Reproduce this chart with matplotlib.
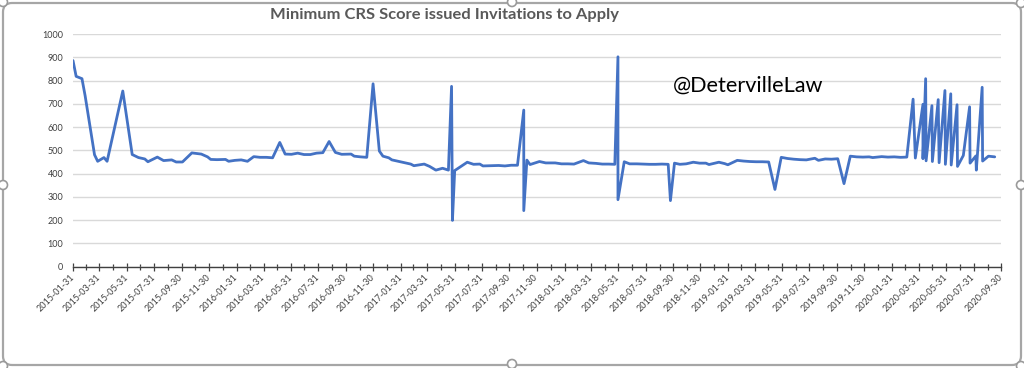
import matplotlib
matplotlib.use("Agg")
import matplotlib.pyplot as plt
import matplotlib.transforms as mtransforms
from matplotlib.patches import FancyBboxPatch, Circle
import pandas as pd

# Express Entry draws: date of the round and minimum CRS score invited
draw_dates = [
    "2015-01-31", "2015-02-07", "2015-02-20", "2015-02-27", "2015-03-20", "2015-03-27",
    "2015-04-10", "2015-04-17", "2015-05-22", "2015-06-12", "2015-06-26", "2015-07-10",
    "2015-07-17", "2015-08-07", "2015-08-21", "2015-09-08", "2015-09-18", "2015-10-02",
    "2015-10-23", "2015-11-13", "2015-11-27", "2015-12-04", "2015-12-18",
    "2016-01-06", "2016-01-13", "2016-01-27", "2016-02-10", "2016-02-24", "2016-03-09",
    "2016-03-23", "2016-04-06", "2016-04-20", "2016-05-06", "2016-05-18", "2016-06-01",
    "2016-06-15", "2016-06-29", "2016-07-13", "2016-07-27", "2016-08-10", "2016-08-24",
    "2016-09-07", "2016-09-21", "2016-10-12", "2016-10-19", "2016-11-02", "2016-11-16",
    "2016-11-30", "2016-12-14", "2016-12-22",
    "2017-01-04", "2017-01-11", "2017-01-25", "2017-02-08", "2017-02-22", "2017-03-01",
    "2017-03-24", "2017-04-05", "2017-04-12", "2017-04-19", "2017-05-04", "2017-05-17",
    "2017-05-24", "2017-05-26", "2017-05-31", "2017-06-28", "2017-07-12", "2017-07-26",
    "2017-08-02", "2017-08-23", "2017-09-06", "2017-09-20", "2017-10-04", "2017-10-18",
    "2017-11-01", "2017-11-01", "2017-11-08", "2017-11-15", "2017-12-06", "2017-12-20",
    "2018-01-10", "2018-01-24", "2018-02-07", "2018-02-21", "2018-03-14", "2018-03-26",
    "2018-04-11", "2018-04-25", "2018-05-09", "2018-05-23", "2018-05-30", "2018-05-30",
    "2018-06-13", "2018-06-25", "2018-07-11", "2018-07-25", "2018-08-08", "2018-08-22",
    "2018-09-05", "2018-09-19", "2018-09-24", "2018-10-03", "2018-10-15", "2018-10-29",
    "2018-11-14", "2018-11-28", "2018-12-12", "2018-12-19",
    "2019-01-10", "2019-01-23", "2019-01-30", "2019-02-20", "2019-03-06", "2019-03-20",
    "2019-04-03", "2019-04-17", "2019-05-01", "2019-05-15", "2019-05-29", "2019-06-12",
    "2019-06-26", "2019-07-10", "2019-07-24", "2019-08-12", "2019-08-20", "2019-09-04",
    "2019-09-18", "2019-10-02", "2019-10-16", "2019-10-30", "2019-11-13", "2019-11-27",
    "2019-12-11", "2019-12-19",
    "2020-01-08", "2020-01-22", "2020-02-05", "2020-02-19", "2020-03-04", "2020-03-18",
    "2020-03-23", "2020-04-09", "2020-04-09", "2020-04-15", "2020-04-16", "2020-04-29",
    "2020-04-30", "2020-05-13", "2020-05-15", "2020-05-28", "2020-05-29", "2020-06-10",
    "2020-06-11", "2020-06-24", "2020-06-25", "2020-07-08", "2020-07-22", "2020-07-23",
    "2020-08-05", "2020-08-06", "2020-08-19", "2020-08-20", "2020-09-02", "2020-09-16",
]

min_scores = [
    886, 818, 808, 735, 481, 453,
    469, 453, 755, 482, 469, 463,
    451, 471, 456, 459, 450, 450,
    489, 484, 472, 461, 460,
    461, 453, 457, 459, 453, 473,
    470, 470, 468, 534, 484, 483,
    488, 482, 482, 488, 490, 538,
    491, 483, 484, 475, 472, 470,
    786, 497, 475,
    468, 459, 453, 447, 441, 434,
    441, 431, 423, 415, 423, 415,
    775, 199, 413, 449, 440, 441,
    433, 434, 435, 433, 436, 436,
    673, 241, 458, 439, 452, 446,
    446, 442, 442, 441, 456, 446,
    444, 441, 441, 440, 902, 288,
    451, 442, 442, 441, 440, 440,
    441, 440, 284, 445, 440, 442,
    449, 445, 445, 439,
    449, 443, 438, 457, 454, 452,
    451, 451, 450, 332, 470, 465,
    462, 460, 459, 466, 457, 463,
    462, 464, 357, 475, 472, 471,
    472, 469,
    473, 471, 472, 470, 471, 720,
    467, 698, 464, 808, 455, 692,
    452, 718, 447, 757, 440, 743,
    437, 696, 431, 478, 687, 445,
    476, 415, 771, 454, 475, 472,
]

y_ticks = [0, 100, 200, 300, 400, 500, 600, 700, 800, 900, 1000]
axis_start = "2015-01-31"
axis_end = "2020-09-30"

title_text = "Minimum CRS Score issued Invitations to Apply"
handle_text = "@DetervilleLaw"

TEXT_GREY = "#595959"
LINE_BLUE = "#4472C4"
W, H = 1024, 368

fig = plt.figure(figsize=(W / 100, H / 100), dpi=100)
fig.patch.set_facecolor("white")

# plot area in pixel terms
left_px, right_px, top_px, bottom_px = 73, 1001, 34, 266.7
ax = fig.add_axes([left_px / W, 1 - bottom_px / H,
                   (right_px - left_px) / W, (bottom_px - top_px) / H])

dates = pd.to_datetime(draw_dates)
ax.plot(dates, min_scores, color=LINE_BLUE, lw=2.0,
        solid_joinstyle="round", solid_capstyle="round", zorder=3)

months = pd.date_range(axis_start, axis_end, freq="ME")
major = months[::2]
minor = months[1::2]

ax.set_xlim(months[0], months[-1])
ax.set_ylim(y_ticks[0], y_ticks[-1])
ax.set_yticks(y_ticks)
ax.set_yticklabels([str(v) for v in y_ticks])

ax.set_xticks(major)
ax.set_xticks(minor, minor=True)
ax.set_xticklabels([d.strftime("%Y-%m-%d") for d in major])

ax.grid(axis="y", color="#d9d9d9", lw=1.0)
ax.set_axisbelow(True)
for side in ("left", "right", "top"):
    ax.spines[side].set_visible(False)
ax.spines["bottom"].set_color("#404040")
ax.spines["bottom"].set_linewidth(1.0)
ax.spines["bottom"].set_zorder(2)

label_font = "Lato"
ax.tick_params(axis="y", length=0, pad=7, labelsize=6.5, labelcolor="#404040")
ax.tick_params(axis="x", which="major", direction="inout", length=5.5,
               width=0.9, color="#404040", pad=4, labelsize=6.5,
               labelcolor="#404040")
ax.tick_params(axis="x", which="minor", direction="inout", length=4,
               width=0.9, color="#404040")
for lab in ax.get_yticklabels():
    lab.set_family(label_font)
for lab in ax.get_xticklabels():
    lab.set_family(label_font)
    lab.set_rotation(45)
    lab.set_ha("right")
    lab.set_va("center")
    lab.set_rotation_mode("anchor")

title = fig.text(445 / W, 1 - 15 / H, title_text, ha="center", va="center",
                 fontsize=11, fontweight="bold", color=TEXT_GREY, family="Lato")
mark = fig.text(673 / W, 1 - 86 / H, handle_text, ha="left", va="center",
                fontsize=20, fontweight="normal", color="#000000", family="Lato")

# size the two free-standing texts to their widths
fig.canvas.draw()
renderer = fig.canvas.get_renderer()
for txt, target in ((title, 347), (mark, 150)):
    w = txt.get_window_extent(renderer).width
    txt.set_fontsize(txt.get_fontsize() * target / w)

# chart-object frame with selection handles
pix = mtransforms.IdentityTransform()
frame = FancyBboxPatch((3, 3), W - 6, H - 6,
                       boxstyle="round,pad=0,rounding_size=9",
                       transform=pix, fill=False, ec="#a6a6a6", lw=1.6)
fig.patches.append(frame)
for (hx, hy) in ((3, H - 2), (512, H - 2), (W - 3, H - 3),
                 (3, H / 2 - 1), (W - 3, H / 2 - 1),
                 (3, 2), (512, 4), (W - 3, 2)):
    fig.patches.append(Circle((hx, hy), 4.5, transform=pix, fc="white",
                              ec="#9a9a9a", lw=1.2, zorder=5))

fig.savefig("out.png", dpi=100)
